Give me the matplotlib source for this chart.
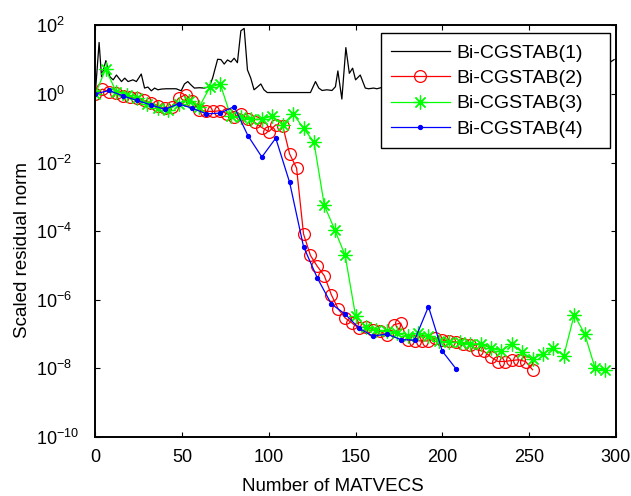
"""
Convergence of Bi-CGSTAB(l): scaled residual norm vs number of MATVECS.
"""

import numpy as np
import matplotlib
matplotlib.use("Agg")
import matplotlib.pyplot as plt

plt.rcParams["font.family"] = ["Liberation Sans", "DejaVu Sans"]
plt.rcParams["mathtext.fontset"] = "custom"
plt.rcParams["mathtext.rm"] = "Liberation Sans"

# ---------------------------------------------------------------------------
# Data (log10 of scaled residual norm)
# ---------------------------------------------------------------------------

# Bi-CGSTAB(1): line only
x1 = [0, 2.2, 3.6, 6.1, 8.4, 10.3, 12.2, 15.1, 17, 18.9, 21.7, 23.7, 26.5, 28.4,
      30.3, 32.3, 34.2, 36.1, 38, 40.9, 43.8, 46.6, 49.5, 51.4, 53.3, 55.2, 57.1,
      60, 62.8, 65.7, 67.6, 70.5, 72.4, 74.3, 76.2, 78.2, 80, 81.9, 83.9, 85.8,
      87.7, 89.6, 91.5, 93.4, 95.4, 97.2, 99.1, 124, 126.9, 128.8, 130.7, 133.5,
      136.4, 138.4, 139.8, 142.1, 144.4, 146.4, 148.3, 150, 152.7, 155.6, 157.5,
      160.4, 162.3, 166, 170, 175, 180, 186, 192, 200, 210, 220, 230, 240, 250,
      260, 270, 280, 288, 293, 296, 299]
e1 = [0, 1.5, .5, .97, .5, .41, .55, .36, .46, .36, .41, .36, .58, .17, .2, .09,
      .17, .12, .14, .15, .15, .15, .09, .29, .36, .26, .17, .18, .17, .21, .46,
      1.01, 1.0, .87, .99, .93, 1.04, .91, 1.84, 1.91, .7, .46, .12, .2, .29, .12,
      .04, .04, .36, .17, .1, .12, .1, .21, .67, -.15, 1.35, .6, .75, .41, .55,
      .17, .15, .17, .15, .2, .1, .3, .15, .4, .2, .1, .1, .25, .15, .3, .1, .2,
      .35, .2, .5, .6, .9, 1.0]

# Bi-CGSTAB(2): every 4 MATVECS
x2 = np.arange(0, 256, 4)
e2 = [0, .14, .07, .02, -.06, -.1, -.13, -.19, -.26, -.34, -.42, -.37, -.13,
      -.02, -.22, -.46, -.51, -.51, -.49, -.58, -.66, -.58, -.74, -.83, -.98,
      -1.1, -.9, -.93, -1.75, -2.16, -4.08, -4.71, -5.03, -5.3, -5.85, -6.27,
      -6.53, -6.68, -6.83, -6.78, -6.88, -6.92, -7.02, -6.73, -6.68, -7.17,
      -7.19, -7.2, -7.2, -7.12, -7.17, -7.2, -7.23, -7.28, -7.31, -7.46, -7.5,
      -7.67, -7.8, -7.8, -7.77, -7.75, -7.8, -8.04]

# Bi-CGSTAB(3): every 6 MATVECS
x3 = np.arange(0, 300, 6)
e3 = [0, .72, .07, -.03, -.13, -.28, -.4, -.47, -.28, -.2, -.37, .19, .29,
      -.64, -.68, -.74, -.74, -.64, -.9, -.58, -1.0, -1.4, -3.25, -3.96, -4.71,
      -6.47, -6.8, -6.89, -6.92, -6.97, -7.07, -6.97, -7.07, -7.21, -7.24,
      -7.24, -7.29, -7.28, -7.41, -7.49, -7.28, -7.53, -7.73, -7.57, -7.41,
      -7.63, -6.44, -6.99, -7.99, -8.06]

# Bi-CGSTAB(4): every 8 MATVECS
x4 = np.arange(0, 216, 8)
e4 = [0, .1, -.06, -.19, -.32, -.45, -.29, -.42, -.58, -.56, -.37, -1.22,
      -1.84, -1.29, -2.58, -4.45, -5.37, -6.12, -6.42, -6.83, -7.06, -7.0,
      -7.16, -7.18, -6.2, -7.5, -8.02]

labels = ["Bi-CGSTAB(1)", "Bi-CGSTAB(2)", "Bi-CGSTAB(3)", "Bi-CGSTAB(4)"]

# ---------------------------------------------------------------------------
# Figure
# ---------------------------------------------------------------------------

fig = plt.figure(figsize=(6.31, 4.96), dpi=100)
ax = fig.add_axes([0.151, 0.119, 0.825, 0.830])

ax.semilogy(x1, np.power(10.0, e1), color="black", lw=0.9, label=labels[0])
ax.semilogy(x2, np.power(10.0, e2), color="red", lw=0.9, marker="o",
            ms=8.5, mfc="none", mew=0.9, label=labels[1])
ax.semilogy(x3, np.power(10.0, e3), color="#00FF00", lw=0.9, marker=(8, 2, 0),
            ms=10, mew=0.9, label=labels[2])
ax.semilogy(x4, np.power(10.0, e4), color="blue", lw=0.9, marker="o",
            ms=2.8, label=labels[3])

ax.set_xlim(0, 300)
ax.set_ylim(1e-10, 1e2)
ax.set_xticks([0, 50, 100, 150, 200, 250, 300])
ax.set_yticks([1e-10, 1e-8, 1e-6, 1e-4, 1e-2, 1e0, 1e2])
ax.minorticks_off()

ax.tick_params(direction="in", length=3.6, width=0.8, labelsize=13,
               top=True, right=True)
ax.tick_params(axis="x", pad=9)
ax.tick_params(axis="y", pad=43)
for lab in ax.get_yticklabels():
    lab.set_horizontalalignment("left")

for sp in ax.spines.values():
    sp.set_linewidth(1.4)

ax.set_xlabel("Number of MATVECS", fontsize=13.5)
ax.set_ylabel("Scaled residual norm", fontsize=13.5)
ax.xaxis.set_label_coords(0.456, -0.100)
ax.yaxis.set_label_coords(-0.124, 0.454)

# legend box spans a fixed width, like the original
leg = ax.legend(loc="upper left", bbox_to_anchor=(0.548, 0.9806, 0.44, 0.0),
                mode="expand", fontsize=14, fancybox=False, framealpha=1,
                edgecolor="black", borderaxespad=0.0, handlelength=3.0,
                handletextpad=0.35, borderpad=0.55, labelspacing=0.4,
                numpoints=1)
leg.get_frame().set_linewidth(1.0)

fig.savefig("out.png", dpi=100, facecolor="white")
